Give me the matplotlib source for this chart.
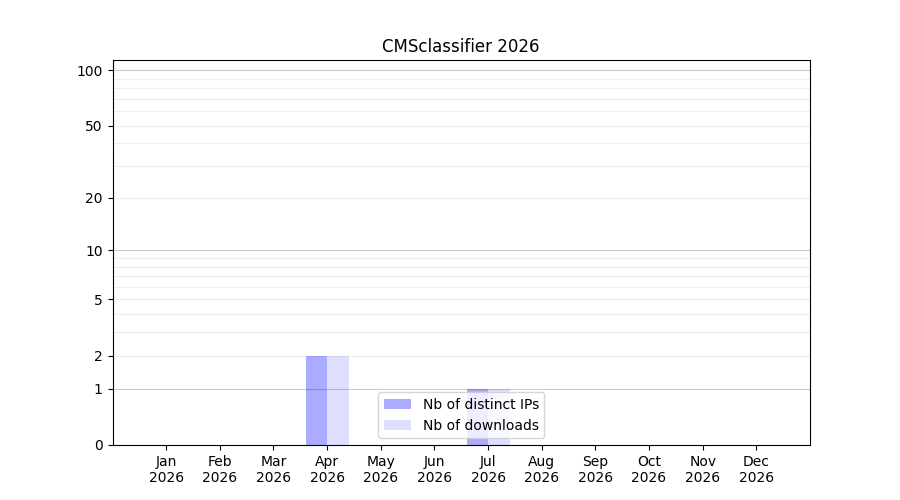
import matplotlib
matplotlib.use("Agg")
import matplotlib.pyplot as plt
import numpy as np

# monthly stats
months = ["Jan", "Feb", "Mar", "Apr", "May", "Jun",
          "Jul", "Aug", "Sep", "Oct", "Nov", "Dec"]
year = 2026
distinct_ips = [0, 0, 0, 2, 0, 0, 1, 0, 0, 0, 0, 0]
downloads = [0, 0, 0, 2, 0, 0, 1, 0, 0, 0, 0, 0]

ytick_values = [0, 1, 2, 5, 10, 20, 50, 100]
major_grid = [1, 10, 100]
minor_grid = [2, 3, 4, 5, 6, 7, 8, 9, 20, 30, 40, 50, 60, 70, 80, 90]

x = np.arange(1, len(months) + 1)

fig, ax = plt.subplots(figsize=(9, 5), dpi=100)

ax.set_yscale('function', functions=(lambda v: np.log10(1 + np.clip(v, 0, None)),
                                     lambda v: 10 ** v - 1))

for g in minor_grid:
    ax.axhline(g, color='#eeeeee', linewidth=0.8, zorder=0)
for g in major_grid:
    ax.axhline(g, color='#cccccc', linewidth=0.8, zorder=0)

ax.bar(x - 0.4, distinct_ips, width=0.4, align='edge', color='blue', alpha=0.33,
       linewidth=0, label='Nb of distinct IPs', zorder=1)
ax.bar(x, downloads, width=0.4, align='edge', color='blue', alpha=0.13,
       linewidth=0, label='Nb of downloads', zorder=1)

ax.set_xlim(0, 13)
ax.set_ylim(0, 113.5)
ax.set_xticks(x)
ax.set_xticklabels(["{}\n{}".format(m, year) for m in months])
ax.set_yticks(ytick_values)
ax.set_yticklabels([str(v) for v in ytick_values])
ax.minorticks_off()

ax.set_title("CMSclassifier {}".format(year))
ax.legend(loc='lower center')

plt.savefig("out.png")
